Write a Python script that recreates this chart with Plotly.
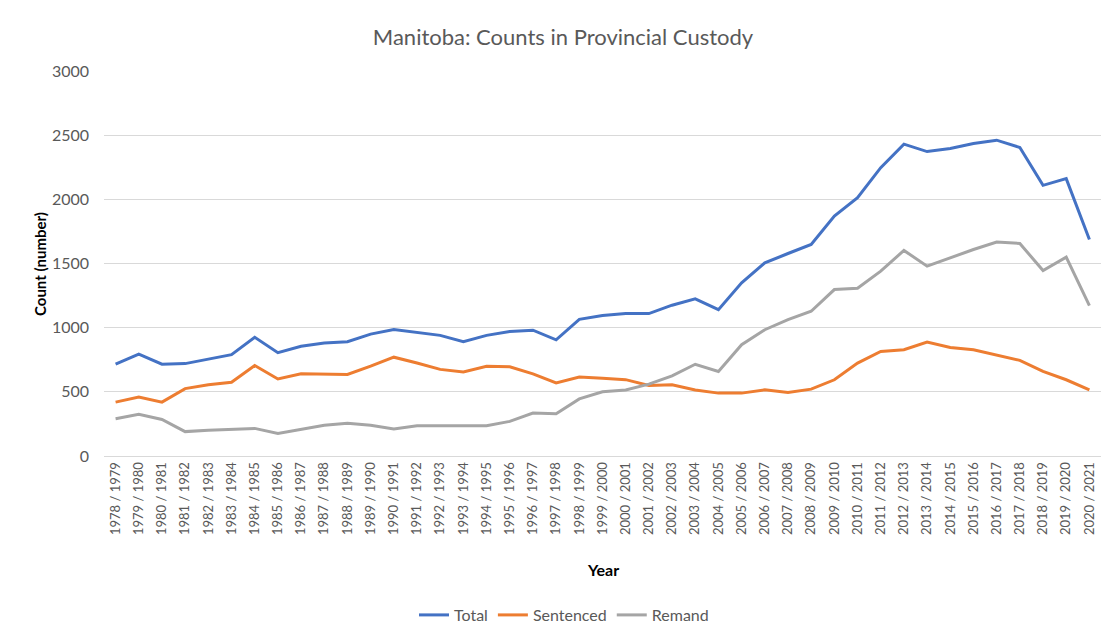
import plotly.graph_objects as go

years = [f"{y} / {y+1}" for y in range(1978, 2021)]

total = [715, 793, 715, 720, 755, 790, 925, 805, 855, 880, 890, 950, 985, 960, 940, 890,
         940, 970, 980, 905, 1065, 1095, 1110, 1110, 1175, 1225, 1140, 1349, 1505, 1578,
         1648, 1870, 2013, 2247, 2430, 2372, 2396, 2435, 2461, 2404, 2109, 2161, 1687]

sentenced = [420, 460, 420, 525, 555, 575, 705, 600, 640, 640, 635, 700, 770, 725, 675, 655,
             700, 695, 640, 570, 615, 605, 595, 550, 555, 515, 490, 490, 516, 495,
             521, 594, 724, 815, 828, 888, 846, 828, 789, 745, 659, 594, 516]

remand = [290, 325, 285, 190, 200, 205, 215, 175, 210, 240, 255, 240, 210, 235, 235, 235,
          235, 270, 335, 330, 445, 500, 515, 560, 625, 715, 659, 867, 984, 1062,
          1128, 1297, 1307, 1440, 1602, 1479, 1544, 1609, 1667, 1656, 1445, 1549, 1172]

series = [("Total", total, "#4472C4"),
          ("Sentenced", sentenced, "#ED7D31"),
          ("Remand", remand, "#A5A5A5")]

font_family = "Lato, 'Open Sans', 'Liberation Sans', sans-serif"

# page body has an 8px margin; size the figure so it fits the 1112x640 window
W, H, OFF = 1104, 632, 8

fig = go.Figure()
for name, vals, color in series:
    fig.add_trace(go.Scatter(x=years, y=vals, name=name, mode="lines",
                             line=dict(color=color, width=3)))

fig.update_layout(
    width=W, height=H,
    paper_bgcolor="white", plot_bgcolor="white",
    margin=dict(l=104 - OFF, r=11, t=71 - OFF, b=184),
    font=dict(family=font_family, color="#595959", size=13),
    title=dict(text="Manitoba: Counts in Provincial Custody", x=(563 - OFF) / W,
               xref="container", xanchor="center", y=1 - (37 - OFF) / H, yref="container",
               yanchor="middle",
               font=dict(size=22, color="#595959", family=font_family)),
    showlegend=True,
    legend=dict(orientation="h", x=(564 - OFF) / W, xref="container", xanchor="center",
                y=1 - (615 - OFF) / H, yref="container", yanchor="middle",
                font=dict(size=16, color="#595959")),
    xaxis=dict(type="category", range=[-0.5, 42.5], tickangle=-90, showgrid=False,
               showline=True, linecolor="#D9D9D9", linewidth=1, ticks="",
               tickfont=dict(size=13, color="#595959")),
    yaxis=dict(range=[0, 3000], dtick=500, showgrid=True, gridcolor="#D9D9D9",
               gridwidth=1, zeroline=False, ticks="", showline=False,
               tickfont=dict(size=16, color="#595959"), ticklabelstandoff=14),
    annotations=[
        dict(text="<b>Year</b>", x=(603 - 104) / 997, xref="paper", y=(456 - 569) / 385,
             yref="paper", showarrow=False, font=dict(size=16, color="#000000"),
             xanchor="center", yanchor="middle"),
        dict(text="<b>Count (number)</b>", x=(40 - 104) / 997, xref="paper",
             y=(456 - 264) / 385, yref="paper", showarrow=False, textangle=-90,
             font=dict(size=15, color="#000000"), xanchor="center", yanchor="middle"),
    ],
)

fig.write_html("out.html")
